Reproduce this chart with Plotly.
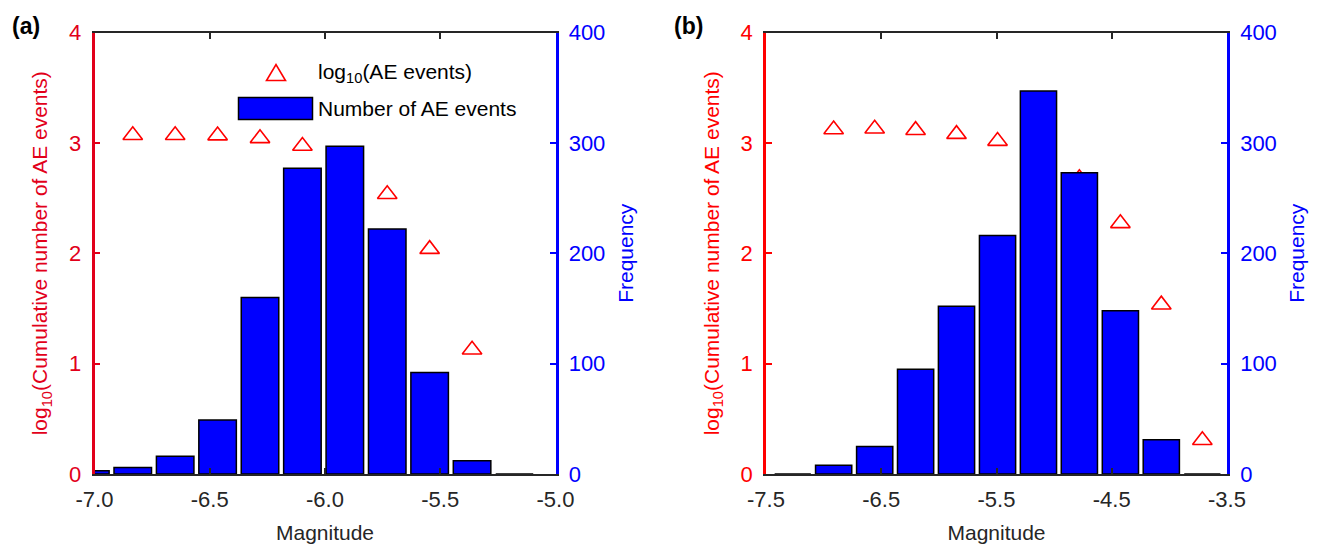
import plotly.graph_objects as go

# ---------------- data ----------------
# Panel (a)
mag_a = [-7.018, -6.834, -6.650, -6.466, -6.282, -6.098, -5.914, -5.730, -5.546, -5.362, -5.178]
freq_a = [3, 6, 16, 49, 160, 277, 297, 222, 92, 12, 0]
cum_mag_a = [-6.834, -6.650, -6.466, -6.282, -6.098, -5.914, -5.730, -5.546, -5.362]
log_cum_a = [3.069, 3.069, 3.066, 3.041, 2.972, 2.80, 2.534, 2.037, 1.126]

# Panel (b)
mag_b = [-7.268, -6.913, -6.557, -6.202, -5.847, -5.491, -5.136, -4.781, -4.425, -4.070, -3.714]
freq_b = [0, 8, 25, 95, 152, 216, 347, 273, 148, 31, 0]
cum_mag_b = [-6.913, -6.557, -6.202, -5.847, -5.491, -5.136, -4.781, -4.425, -4.070, -3.714]
log_cum_b = [3.121, 3.128, 3.115, 3.079, 3.016, 2.90, 2.68, 2.271, 1.534, 0.306]

xticks_a = [-7.0, -6.5, -6.0, -5.5, -5.0]
xticklabels_a = ["-7.0", "-6.5", "-6.0", "-5.5", "-5.0"]
xticks_b = [-7.5, -6.5, -5.5, -4.5, -3.5]
xticklabels_b = ["-7.5", "-6.5", "-5.5", "-4.5", "-3.5"]
left_ticks = [0, 1, 2, 3, 4]
right_ticks = [0, 100, 200, 300, 400]

# ---------------- style ----------------
W, H = 1319, 545
FONT = "Liberation Sans, Arial, Helvetica, sans-serif"
DARK = "#262626"
RED_A = "#e2001a"
RED_B = "#ff0000"
BLUE = "#0000ff"
TICK_SIZE = 22
TITLE_SIZE = 21

fig = go.Figure()

def add_panel(mag, freq, cmag, lcum, xa, ya_left, ya_right):
    fig.add_trace(go.Scatter(
        x=cmag, y=lcum, mode="markers", name="log10(AE events)",
        xaxis=xa, yaxis=ya_left, showlegend=False,
        marker=dict(symbol="triangle-up-open", size=17, color="#ff0000",
                    line=dict(width=1.6, color="#ff0000")),
        cliponaxis=True))
    fig.add_trace(go.Bar(
        x=mag, y=freq, name="Number of AE events",
        xaxis=xa, yaxis=ya_right, showlegend=False,
        marker=dict(color=BLUE, line=dict(color="black", width=1.5))))

add_panel(mag_a, freq_a, cum_mag_a, log_cum_a, "x", "y", "y2")
add_panel(mag_b, freq_b, cum_mag_b, log_cum_b, "x2", "y3", "y4")

ydom = [1 - 474 / H, 1 - 32.5 / H]
xdom_a = [94.5 / W, 555.5 / W]
xdom_b = [766 / W, 1227 / W]

def xaxis(dom, rng, tv, tt, anchor):
    return dict(domain=dom, range=rng, tickvals=tv, ticktext=tt, anchor=anchor,
                automargin=False,
                showline=True, linecolor=DARK, linewidth=2, mirror="ticks",
                ticks="inside", ticklen=6, tickwidth=2, tickcolor=DARK,
                showgrid=False, zeroline=False,
                tickfont=dict(family=FONT, size=TICK_SIZE, color=DARK),
                ticklabelstandoff=5,
                title=dict(text="Magnitude", font=dict(family=FONT, size=TITLE_SIZE, color=DARK),
                           standoff=14))

def yleft(red, anchor):
    return dict(domain=ydom, range=[0, 4], tickvals=left_ticks, anchor=anchor,
                automargin=False,
                showline=True, linecolor=red, linewidth=2.5, mirror=False,
                ticks="inside", ticklen=6, tickwidth=2, tickcolor=red,
                showgrid=False, zeroline=False,
                tickfont=dict(family=FONT, size=TICK_SIZE, color=red),
                ticklabelstandoff=6,
                title=dict(text="log<sub>10</sub>(Cumulative number of AE events)",
                           font=dict(family=FONT, size=TITLE_SIZE, color=red), standoff=16))

def yright(overlay, anchor):
    return dict(domain=ydom, range=[0, 400], tickvals=right_ticks, anchor=anchor,
                automargin=False,
                overlaying=overlay, side="right",
                showline=True, linecolor=BLUE, linewidth=2.5,
                ticks="inside", ticklen=6, tickwidth=2, tickcolor=BLUE,
                showgrid=False, zeroline=False,
                tickfont=dict(family=FONT, size=TICK_SIZE, color=BLUE),
                ticklabelstandoff=6,
                title=dict(text="Frequency", font=dict(family=FONT, size=TITLE_SIZE, color=BLUE),
                           standoff=14))

shapes = []
annotations = []

def px(x):
    return x / W

def py(y):
    return 1 - y / H

# manual legend for panel (a)
tri_cx, tri_top, tri_bot, tri_hw = 276, 64.5, 80.5, 9.5
shapes.append(dict(type="path", xref="paper", yref="paper",
                   path=f"M {px(tri_cx - tri_hw)},{py(tri_bot)} L {px(tri_cx + tri_hw)},{py(tri_bot)} "
                        f"L {px(tri_cx)},{py(tri_top)} Z",
                   line=dict(color="#ff0000", width=1.6), fillcolor="rgba(0,0,0,0)"))
shapes.append(dict(type="rect", xref="paper", yref="paper",
                   x0=px(238.5), x1=px(312.5), y0=py(119.5), y1=py(97.5),
                   line=dict(color="black", width=1.5), fillcolor=BLUE))
annotations.append(dict(xref="paper", yref="paper", x=px(316), y=py(73),
                        text="log<sub>10</sub>(AE events)", showarrow=False,
                        xanchor="left", yanchor="middle",
                        font=dict(family=FONT, size=21, color="black")))
annotations.append(dict(xref="paper", yref="paper", x=px(316), y=py(108),
                        text="Number of AE events", showarrow=False,
                        xanchor="left", yanchor="middle",
                        font=dict(family=FONT, size=21, color="black")))
# panel labels
annotations.append(dict(xref="paper", yref="paper", x=px(26), y=py(26), text="<b>(a)</b>",
                        showarrow=False, xanchor="center", yanchor="middle",
                        font=dict(family=FONT, size=23, color="black")))
annotations.append(dict(xref="paper", yref="paper", x=px(688), y=py(26), text="<b>(b)</b>",
                        showarrow=False, xanchor="center", yanchor="middle",
                        font=dict(family=FONT, size=23, color="black")))

fig.update_layout(
    template="none",
    width=W, height=H, autosize=False,
    margin=dict(l=0, r=0, t=0, b=0, pad=0),
    paper_bgcolor="white", plot_bgcolor="white",
    bargap=0.115,
    showlegend=False,
    xaxis=xaxis(xdom_a, [-7, -5], xticks_a, xticklabels_a, "y"),
    xaxis2=xaxis(xdom_b, [-7.5, -3.5], xticks_b, xticklabels_b, "y3"),
    yaxis=yleft(RED_A, "x"),
    yaxis2=yright("y", "x"),
    yaxis3=yleft(RED_B, "x2"),
    yaxis4=yright("y3", "x2"),
    shapes=shapes,
    annotations=annotations,
    font=dict(family=FONT),
)

fig.write_html("out.html")
